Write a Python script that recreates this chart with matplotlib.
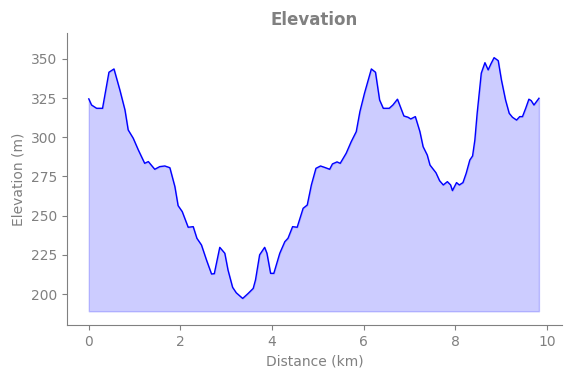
import matplotlib
matplotlib.use("Agg")
import matplotlib.pyplot as plt
import numpy as np

distance_km = [0.00, 0.06, 0.17, 0.30, 0.44, 0.55, 0.68, 0.79, 0.86, 0.97, 1.08, 1.22, 1.30,
               1.44, 1.55, 1.66, 1.77, 1.88, 1.95, 2.04, 2.17, 2.28, 2.36, 2.46, 2.57, 2.68,
               2.74, 2.86, 2.97, 3.04, 3.14, 3.22, 3.36, 3.48, 3.59, 3.64, 3.73, 3.84, 3.89,
               3.97, 4.04, 4.17, 4.28, 4.35, 4.45, 4.55, 4.68, 4.77, 4.86, 4.96, 5.06, 5.15,
               5.26, 5.32, 5.42, 5.49, 5.62, 5.73, 5.84, 5.92, 6.02, 6.17, 6.26, 6.35, 6.43,
               6.56, 6.64, 6.74, 6.88, 6.97, 7.03, 7.13, 7.23, 7.30, 7.39, 7.45, 7.58, 7.66,
               7.74, 7.83, 7.90, 7.94, 8.03, 8.09, 8.17, 8.24, 8.32, 8.38, 8.43, 8.48, 8.54,
               8.57, 8.65, 8.72, 8.78, 8.85, 8.94, 9.01, 9.10, 9.18, 9.25, 9.34, 9.41, 9.47,
               9.54, 9.61, 9.66, 9.72, 9.83]
elevation_m = [324.5, 320.6, 318.5, 318.5, 341.5, 343.6, 330.0, 317.4, 304.7, 299.4, 292.0, 283.4, 284.5,
               279.6, 281.3, 281.7, 280.6, 268.5, 256.4, 252.6, 242.6, 243.0, 235.6, 231.3, 221.7, 212.8,
               213.0, 229.8, 226.0, 215.3, 204.3, 200.8, 197.2, 200.4, 203.6, 209.0, 225.0, 229.8, 226.0,
               213.2, 213.2, 226.0, 233.4, 235.6, 243.0, 242.6, 254.7, 256.8, 269.6, 280.2, 281.7, 280.8,
               279.6, 283.0, 284.3, 283.4, 289.8, 297.2, 303.6, 316.4, 328.1, 343.6, 341.5, 323.8, 318.5,
               318.5, 320.6, 324.3, 313.6, 312.8, 311.7, 313.2, 303.6, 294.0, 288.7, 282.3, 277.4, 272.3,
               269.6, 271.7, 269.6, 266.0, 271.1, 269.6, 271.1, 277.0, 285.5, 288.1, 298.3, 315.3, 332.3,
               340.9, 347.6, 343.0, 346.8, 350.8, 348.9, 336.6, 323.8, 315.3, 312.8, 311.0, 313.2, 313.2,
               318.5, 324.3, 323.4, 320.6, 324.9]
fill_base = 189

gray = "#808080"
fig, ax = plt.subplots(figsize=(5.71, 3.78), dpi=100)
fig.subplots_adjust(left=0.117, right=0.984, top=0.913, bottom=0.14)

ax.plot(distance_km, elevation_m, color="blue", linewidth=1)
ax.fill_between(distance_km, elevation_m, fill_base, color="blue", alpha=0.2)

ax.set_xlim(-0.48, 10.33)
ax.set_ylim(180.2, 366.6)
ax.set_xticks([0, 2, 4, 6, 8, 10])
ax.set_yticks([200, 225, 250, 275, 300, 325, 350])

ax.set_title("Elevation", fontsize=12, fontweight="bold", color=gray)
ax.set_xlabel("Distance (km)", fontsize=10, color=gray)
ax.set_ylabel("Elevation (m)", fontsize=10, color=gray)
ax.tick_params(colors=gray, labelsize=10)
for s in ["top", "right"]:
    ax.spines[s].set_visible(False)
for s in ["left", "bottom"]:
    ax.spines[s].set_color(gray)

fig.savefig("out.png", dpi=100)
